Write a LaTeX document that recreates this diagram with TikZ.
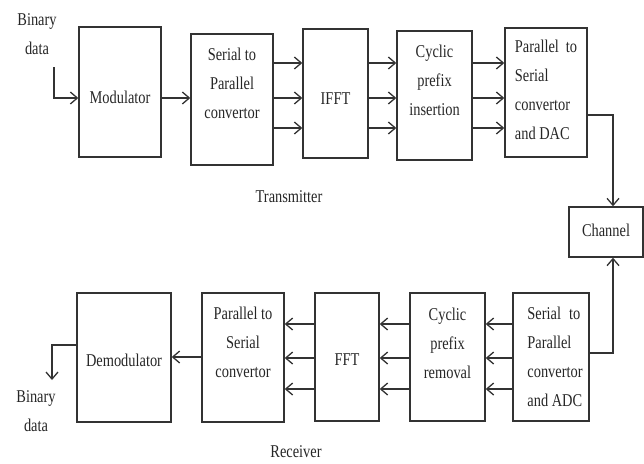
\documentclass[tikz,border=0pt]{standalone}
\usepackage{fontspec}
\setmainfont{Liberation Serif}[FakeStretch=0.8]
\usetikzlibrary{arrows.meta}
\begin{document}
\begin{tikzpicture}[x=1pt,y=-1pt,
  box/.style={draw=black!80, line width=1.4pt, inner sep=0pt},
  txt/.style={font=\fontsize{18}{29}\selectfont, align=center, text=black!85, inner sep=0pt},
  txl/.style={font=\fontsize{18}{29}\selectfont, align=left, text=black!85, inner sep=0pt},
  arr/.style={draw=black!80, line width=1.3pt, -{Straight Barb[length=7pt,width=12pt,line width=1.3pt]}},
  ln/.style={draw=black!80, line width=1.3pt}]
\useasboundingbox (0,0) rectangle (644,463);
% helper levels
\coordinate (t1) at (0,63);
\coordinate (t2) at (0,98);
\coordinate (t3) at (0,128);
\coordinate (r1) at (0,324);
\coordinate (r2) at (0,358);
\coordinate (r3) at (0,389);
% transmitter
\node[box, minimum width=82pt, minimum height=130pt,
  label={[txt, yshift=-5pt]center:Modulator}] (mod) at (120,92) {};
\node[box, minimum width=82pt, minimum height=131pt,
  label={[txt, yshift=16pt]center:{Serial to\\Parallel\\convertor}}] (s2p) at (232,99.5) {};
\node[box, minimum width=65pt, minimum height=129pt,
  label={[txt, yshift=-5pt]center:IFFT}] (ifft) at (335.5,93.5) {};
\node[box, minimum width=75pt, minimum height=129pt,
  label={[txt, yshift=15pt]center:{Cyclic\\prefix\\insertion}}] (cpi) at (434.5,95.5) {};
\node[box, minimum width=82pt, minimum height=129pt,
  label={[txl, yshift=3pt]center:{Parallel\hspace{7pt}to\\Serial\\convertor\\and DAC}}] (p2sd) at (546,92.5) {};
\node[box, minimum width=74pt, minimum height=50pt,
  label={[txt, yshift=2pt]center:Channel}] (chan) at (606,232) {};
% receiver
\node[box, minimum width=94pt, minimum height=129pt,
  label={[txt, yshift=-3pt]center:Demodulator}] (demod) at (124,357.5) {};
\node[box, minimum width=82pt, minimum height=129pt,
  label={[txt, yshift=15pt]center:{Parallel to\\Serial\\convertor}}] (p2s) at (243,357.5) {};
\node[box, minimum width=64pt, minimum height=128pt,
  label={[txt, yshift=-3pt]center:FFT}] (fft) at (347,357) {};
\node[box, minimum width=75pt, minimum height=128pt,
  label={[txt, yshift=14pt]center:{Cyclic\\prefix\\removal}}] (cpr) at (447.5,357) {};
\node[box, minimum width=76pt, minimum height=128pt,
  label={[txl, xshift=4pt, yshift=0pt]center:{Serial\hspace{8pt}to\\Parallel\\convertor\\and ADC}}] (s2pa) at (551,357) {};
% labels
\node[txt] (bin1) at (37,34) {Binary\\data};
\node[txt] (bin2) at (36,411) {Binary\\data};
\node[txt] (tx) at (289,197) {Transmitter};
\node[txt] (rx) at (296,452) {Receiver};
% connectors transmitter
\coordinate (inp) at (54,67);
\draw[arr] (inp) |- (mod.west |- t2);
\draw[arr] (mod.east |- t2) -- (s2p.west |- t2);
\foreach \l in {t1,t2,t3}{
  \draw[arr] (s2p.east |- \l) -- (ifft.west |- \l);
  \draw[arr] (ifft.east |- \l) -- (cpi.west |- \l);
  \draw[arr] (cpi.east |- \l) -- (p2sd.west |- \l);
}
\coordinate (o1) at (587,115);
\draw[arr] (p2sd.east |- o1) -| (chan.north -| 613,0);
\coordinate (o2) at (589,353);
\draw[arr] (s2pa.east |- o2) -| (chan.south -| 613,0);
% connectors receiver
\foreach \l in {r1,r2,r3}{
  \draw[arr] (s2pa.west |- \l) -- (cpr.east |- \l);
  \draw[arr] (cpr.west |- \l) -- (fft.east |- \l);
  \draw[arr] (fft.west |- \l) -- (p2s.east |- \l);
}
\draw[arr] (p2s.west |- 0,357) -- (demod.east |- 0,357);
\coordinate (outp) at (52,380);
\draw[arr] (demod.west |- 0,345) -| (outp);
\end{tikzpicture}
\end{document}
